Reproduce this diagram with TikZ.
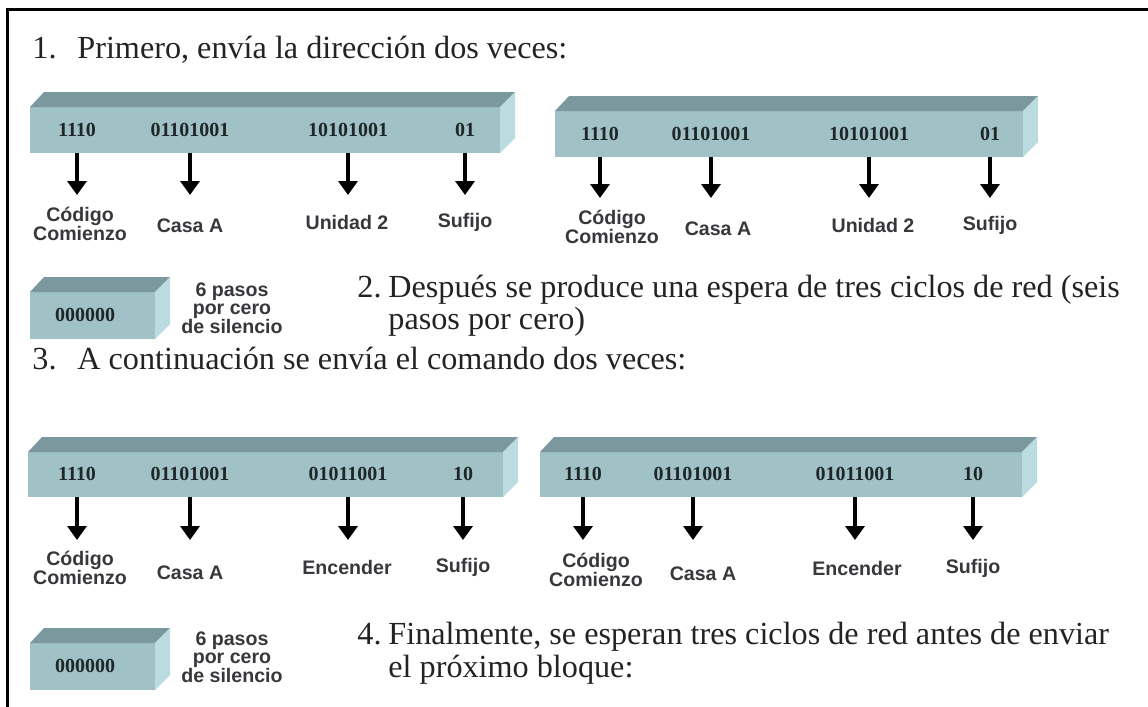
\documentclass[tikz,border=0pt]{standalone}
\usepackage{fontspec}
\setmainfont{Liberation Serif}
\setsansfont{Liberation Sans}
\usetikzlibrary{arrows.meta}
\usetikzlibrary{calc}

\definecolor{frente}{RGB}{160,193,198}
\definecolor{tapa}{RGB}{122,152,157}
\definecolor{lado}{RGB}{186,219,224}
\definecolor{bits}{RGB}{30,38,40}
\definecolor{rotulo}{RGB}{55,55,60}
\definecolor{letra}{RGB}{35,35,35}

\tikzset{
  bit/.style={font=\fontsize{10}{12}\selectfont\bfseries, text=bits, inner sep=0pt, minimum height=23pt},
  rotulo/.style={font=\sffamily\bfseries\fontsize{9.8}{9.3}\selectfont, text=rotulo, align=center, inner sep=1pt},
  texto/.style={font=\fontsize{16.1}{16}\selectfont, text=letra, anchor=base west, inner sep=0pt},
  flecha/.style={line width=1.8pt, -{Triangle[width=9.5pt,length=7pt]}}
}

\begin{document}
\begin{tikzpicture}[x=0.5pt, y=-0.5pt]
\useasboundingbox (0,0) rectangle (1148,707);

% frame
\draw[line width=1.5pt] (7,707) -- (7,9) -- (1148,9);

% boxes (front left, front top, front right, front bottom)
\foreach \xa/\ya/\xb/\yb in {30/107/500/153, 555/111/1023/157, 30/292/155/339,
                             28/452/503/497, 540/452/1022/497, 30/643/155/690}{
  \fill[frente] (\xa,\ya) rectangle (\xb,\yb);
  \fill[tapa] (\xa,\ya) -- (\xa+14,\ya-15) -- (\xb+15,\ya-15) -- (\xb,\ya) -- cycle;
  \fill[lado] (\xb,\ya) -- (\xb+15,\ya-15) -- (\xb+15,\yb-15) -- (\xb,\yb) -- cycle;
}

% texts
\node[texto] (t1n) at (32,58) {1.};
\node[texto] (t1) at (77,58) {Primero, envía la dirección dos veces:};
\node[texto] (t2n) at (357,297) {2.};
\node[texto] (t2) at (388,297) {Después se produce una espera de tres ciclos de red (seis};
\node[texto] (t2b) at (388,329) {pasos por cero)};
\node[texto] (t3n) at (32,369) {3.};
\node[texto] (t3) at (77,369) {A continuación se envía el comando dos veces:};
\node[texto] (t4n) at (357,644) {4.};
\node[texto] (t4) at (388,644) {Finalmente, se esperan tres ciclos de red antes de enviar};
\node[texto] (t4b) at (388,677) {el próximo bloque:};

% arrow ends
\coordinate (f1) at (0,195);
\coordinate (f2) at (0,198);
\coordinate (f3) at (0,540);
\coordinate (f4) at (0,540);

% first address
\node[bit] (b1a) at (77,130) {1110};
\node[bit] (b1b) at (190,130) {01101001};
\node[bit] (b1c) at (348,130) {10101001};
\node[bit] (b1d) at (465,130) {01};
\node[rotulo] (l1a) at (80,224) {Código\\Comienzo};
\node[rotulo] (l1b) at (190,226) {Casa A};
\node[rotulo] (l1c) at (347,222) {Unidad 2};
\node[rotulo] (l1d) at (465,222) {Sufijo};

% second address
\node[bit] (b2a) at (600,134) {1110};
\node[bit] (b2b) at (711,134) {01101001};
\node[bit] (b2c) at (869,134) {10101001};
\node[bit] (b2d) at (990,134) {01};
\node[rotulo] (l2a) at (612,227) {Código\\Comienzo};
\node[rotulo] (l2b) at (718,229) {Casa A};
\node[rotulo] (l2c) at (873,225) {Unidad 2};
\node[rotulo] (l2d) at (990,225) {Sufijo};

% first command
\node[bit] (b3a) at (77,474) {1110};
\node[bit] (b3b) at (190,474) {01101001};
\node[bit] (b3c) at (348,474) {01011001};
\node[bit] (b3d) at (463,474) {10};
\node[rotulo] (l3a) at (80,568) {Código\\Comienzo};
\node[rotulo] (l3b) at (190,573) {Casa A};
\node[rotulo] (l3c) at (347,567) {Encender};
\node[rotulo] (l3d) at (463,567) {Sufijo};

% second command
\node[bit] (b4a) at (583,474) {1110};
\node[bit] (b4b) at (693,474) {01101001};
\node[bit] (b4c) at (855,474) {01011001};
\node[bit] (b4d) at (973,474) {10};
\node[rotulo] (l4a) at (596,570) {Código\\Comienzo};
\node[rotulo] (l4b) at (703,574) {Casa A};
\node[rotulo] (l4c) at (857,568) {Encender};
\node[rotulo] (l4d) at (973,568) {Sufijo};

% silence
\node[bit] (s1) at (85,315) {000000};
\node[rotulo] (ls1) at (232,308) {6 pasos\\por cero\\de silencio};
\node[bit] (s2) at (85,666) {000000};
\node[rotulo] (ls2) at (232,657) {6 pasos\\por cero\\de silencio};

% arrows
\foreach \n in {1,2,3,4}{
  \foreach \c in {a,b,c,d}{
    \draw[flecha] (b\n\c.south) -- (b\n\c.south |- f\n);
  }
}
\end{tikzpicture}
\end{document}
